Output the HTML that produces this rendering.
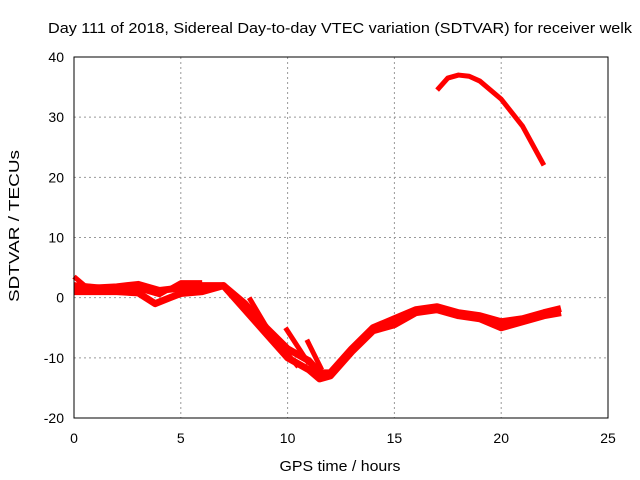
<!DOCTYPE html>
<html><head><meta charset="utf-8"><style>
body{margin:0;background:#fff;}
svg{display:block;font-family:"Liberation Sans",sans-serif;}
</style></head><body>
<svg id="chart" width="640" height="480">
<text x="340" y="33" text-anchor="middle" font-size="15" textLength="584" lengthAdjust="spacingAndGlyphs">Day 111 of 2018, Sidereal Day-to-day VTEC variation (SDTVAR) for receiver welk</text>
<text x="0" y="0" transform="translate(19,226) rotate(-90)" text-anchor="middle" font-size="15" textLength="152" lengthAdjust="spacingAndGlyphs">SDTVAR / TECUs</text>
<text x="340" y="471" text-anchor="middle" font-size="15" textLength="121" lengthAdjust="spacingAndGlyphs">GPS time / hours</text>
<g id="grid"></g><g id="ticks"></g><g id="series"></g>
<rect x="74" y="57" width="534" height="361" fill="none" stroke="#000" stroke-width="1"/>
</svg>
<script>
const xTicks=[0,5,10,15,20,25];
const yTicks=[-20,-10,0,10,20,30,40];
const seriesA=[[0,2],[1,1.6],[2,1.8],[3,2.2],[4,1.2],[5,1.6],[6,2],[7,2],[8,-2],[9,-6],[10,-10],[11,-12],[11.5,-13.5],[12,-13],[13,-9],[14,-5.5],[15,-4.5],[16,-2.5],[17,-2],[18,-3],[19,-3.5],[20,-5],[21,-4],[22,-3],[22.8,-2.5]];
const seriesB=[[0,1],[1,1],[2,1],[3,0.8],[3.8,-1],[4.5,0],[5,0.7],[6,1],[7,2],[8,-1],[9,-5],[10,-8.5],[11,-10.5],[11.5,-12.5],[12,-12.5],[13,-8.5],[14,-5],[15,-3.5],[16,-2],[17,-1.5],[18,-2.5],[19,-3],[20,-4],[21,-3.5],[22,-2.5],[22.8,-1.8]];
const seriesC=[[0,3.5],[0.5,2],[2,1.5],[3,1.5],[4,0.5],[5,2.5],[6,2.5]];
const seriesD=[[8.2,0],[9.2,-6],[10.5,-11.5]];
const seriesE=[[9.9,-5],[11,-11]];
const seriesF=[[10.9,-7],[11.6,-12]];
const seriesG=[[17,34.5],[17.5,36.5],[18,37],[18.5,36.8],[19,36],[20,33],[21,28.5],[22,22]];
const NS="http://www.w3.org/2000/svg";
const X=v=>74+v*534/25, Y=v=>418-(v+20)*361/60;
const grid=document.getElementById('grid'),ticks=document.getElementById('ticks'),ser=document.getElementById('series');
function mk(tag,at,parent){const e=document.createElementNS(NS,tag);for(const k in at)e.setAttribute(k,at[k]);parent.appendChild(e);return e;}
xTicks.forEach(t=>{
 if(t>0&&t<25){const g=mk('line',{x1:X(t),x2:X(t),y1:57,y2:418,stroke:'#999','stroke-dasharray':'2,3'},grid);
 
 }
 const l=mk('text',{x:X(t),y:443,'text-anchor':'middle','font-size':'14'},ticks);l.textContent=t;
 
 
});
yTicks.forEach(t=>{
 if(t>-20&&t<40){const g=mk('line',{x1:74,x2:608,y1:Y(t),y2:Y(t),stroke:'#999','stroke-dasharray':'2,3'},grid);
 
 }
 const l=mk('text',{x:64,y:Y(t)+5,'text-anchor':'end','font-size':'14'},ticks);l.textContent=t;
 
 
});
[seriesA,seriesB,seriesC,seriesD,seriesE,seriesF,seriesG].forEach((s,i)=>{
 const p=mk('polyline',{points:s.map(d=>X(d[0])+','+Y(d[1])).join(' '),fill:'none',stroke:'#ff0000','stroke-width':(i<2?'7':'5'),'stroke-linejoin':'round'},ser);
 
 
});
</script>
</body></html>
